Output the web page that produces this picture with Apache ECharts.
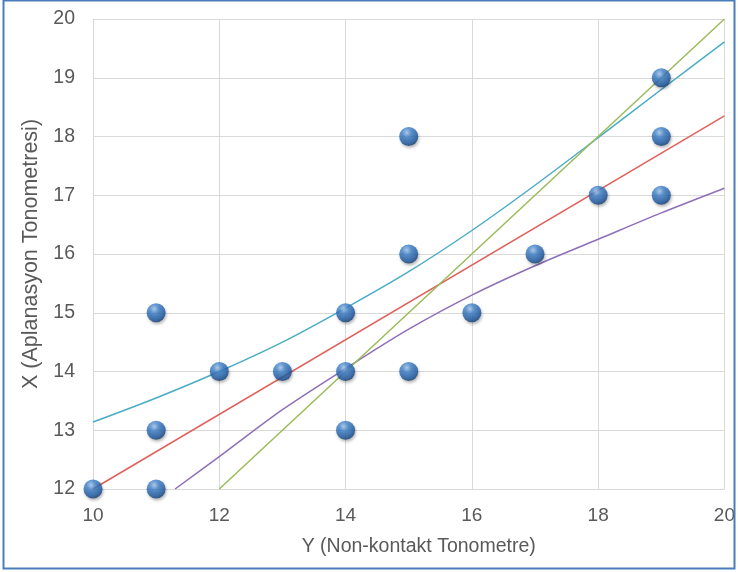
<!DOCTYPE html>
<html><head><meta charset="utf-8">
<script src="https://cdn.jsdelivr.net/npm/echarts@6/dist/echarts.min.js"></script>
<style>html,body{margin:0;padding:0;background:#fff}#c{width:738px;height:572px}</style>
</head><body><div id="c"></div>
<script>
// Scatter points: [Y (Non-kontakt), X (Aplanasyon)]
const pointsX = [10, 11, 11, 11, 12, 13, 14, 14, 14, 15, 15, 15, 16, 17, 18, 19, 19, 19];
const pointsY = [12, 12, 13, 15, 14, 14, 13, 14, 15, 14, 16, 18, 15, 16, 17, 17, 18, 19];

// Identity line (green)
const identityX = [12, 20];
const identityY = [12, 20];

// Regression line (red)
const regX = [10, 20];
const regY = [12.0, 18.35];

// Upper band (cyan)
const upperX = [10, 11, 12, 13, 14, 15, 16, 17, 18, 19, 20];
const upperY = [13.14, 13.55, 14.0, 14.5, 15.08, 15.7, 16.4, 17.17, 17.98, 18.8, 19.61];

// Lower band (purple)
const lowerX = [11.3, 12, 13, 14, 15, 16, 17, 18, 19, 20];
const lowerY = [12.0, 12.55, 13.35, 14.05, 14.72, 15.3, 15.8, 16.25, 16.7, 17.12];

const zip = (a, b) => a.map((v, i) => [v, b[i]]);

const chart = echarts.init(document.getElementById('c'));
const textColor = '#595959';
const gridColor = '#d9d9d9';
const ff = 'Liberation Sans';
chart.setOption({
  animation: false,
  grid: { left: 93, right: 11, top: 19, bottom: 83 },
  xAxis: {
    type: 'value', min: 10, max: 20, interval: 2,
    name: 'Y (Non-kontakt Tonometre)', nameLocation: 'middle', nameGap: 48,
    nameTextStyle: { color: textColor, fontSize: 19.5, fontFamily: ff, padding: [0, 0, 0, 20] },
    axisLine: { show: true, lineStyle: { color: gridColor } },
    axisTick: { show: false },
    axisLabel: { color: textColor, fontSize: 19, fontFamily: ff, margin: 17 },
    splitLine: { show: true, lineStyle: { color: gridColor, width: 1 } }
  },
  yAxis: {
    type: 'value', min: 12, max: 20, interval: 1,
    name: 'X (Aplanasyon Tonometresi)', nameLocation: 'middle', nameGap: 47,
    nameTextStyle: { color: textColor, fontSize: 21.5, fontFamily: ff },
    axisLine: { show: true, lineStyle: { color: gridColor } },
    axisTick: { show: false },
    axisLabel: { color: textColor, fontSize: 19.5, fontFamily: ff, margin: 18 },
    splitLine: { show: true, lineStyle: { color: gridColor, width: 1 } }
  },
  graphic: [{
    type: 'rect', shape: { x: 3.5, y: 0.5, width: 731, height: 568 },
    style: { fill: 'none', stroke: '#4a7ebb', lineWidth: 2 }, silent: true, z: 100
  }],
  series: [
    { type: 'line', data: zip(upperX, upperY), smooth: 0.3, symbol: 'none', lineStyle: { color: '#4bacc6', width: 1.5 }, z: 2 },
    { type: 'line', data: zip(regX, regY), symbol: 'none', lineStyle: { color: '#e0605b', width: 1.5 }, z: 2 },
    { type: 'line', data: zip(lowerX, lowerY), smooth: 0.3, symbol: 'none', lineStyle: { color: '#8f6fb8', width: 1.5 }, z: 2 },
    { type: 'line', data: zip(identityX, identityY), symbol: 'none', lineStyle: { color: '#9bbb59', width: 1.5 }, z: 2 },
    {
      type: 'scatter', data: zip(pointsX, pointsY), symbolSize: 19, z: 5,
      itemStyle: {
        color: new echarts.graphic.RadialGradient(0.4, 0.3, 0.7, [
          { offset: 0, color: '#a9cdf2' },
          { offset: 0.35, color: '#3f82cc' },
          { offset: 0.8, color: '#1d5aa3' },
          { offset: 1, color: '#133f77' }
        ]),
        shadowColor: 'rgba(0,0,0,0.35)', shadowBlur: 3, shadowOffsetX: 1, shadowOffsetY: 2
      }
    }
  ]
});
</script></body></html>
